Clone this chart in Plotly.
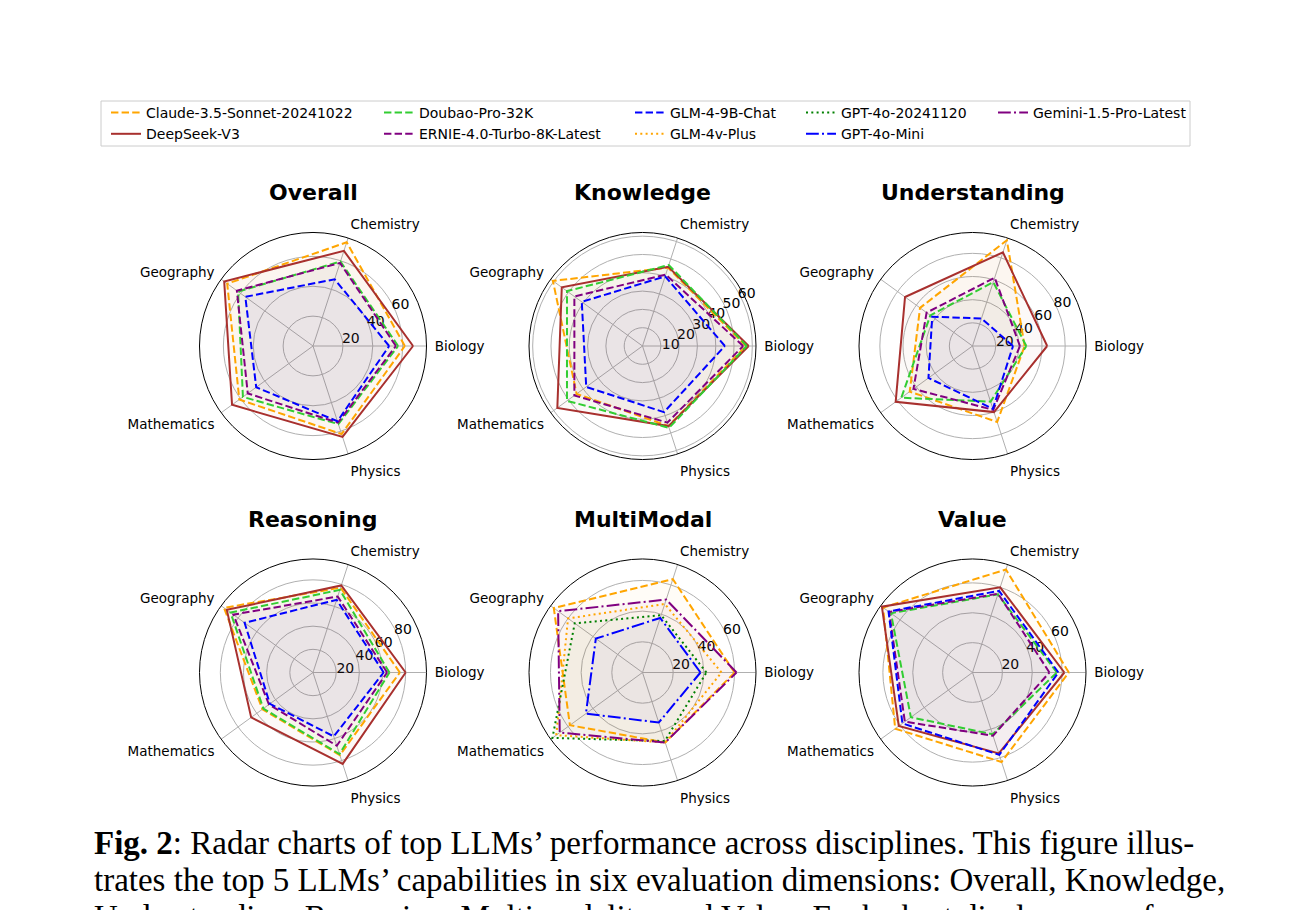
import plotly.graph_objects as go

# ---------------- data ----------------
CATEGORIES = ["Biology", "Chemistry", "Geography", "Mathematics", "Physics"]
DIMENSIONS = ["Overall", "Knowledge", "Understanding", "Reasoning", "MultiModal", "Value"]

# Overall
overall_claude = [61.5, 73, 71, 61, 62]
overall_deepseek = [67, 67, 73.5, 67, 64]
overall_doubao = [57, 59.5, 62, 58, 55]
overall_ernie = [55.5, 58.5, 63, 54, 54]
overall_glm9b = [51, 47, 56, 47, 53]

# Knowledge
knowledge_claude = [56.5, 45, 60.5, 44.5, 46]
knowledge_deepseek = [58, 45.5, 54.5, 57.5, 46]
knowledge_doubao = [57, 46.5, 51, 51, 47]
knowledge_ernie = [55, 41, 46, 46, 44]
knowledge_glm9b = [45, 40, 41, 38, 38]

# Understanding
understanding_claude = [45, 96, 56, 67, 69]
understanding_deepseek = [64.5, 85, 72, 82, 60]
understanding_doubao = [46.5, 58, 45, 76, 50.5]
understanding_ernie = [41, 62, 49, 63, 58]
understanding_glm9b = [35, 25, 43, 47, 57]

# Reasoning
reasoning_claude = [75, 77, 95, 54, 75]
reasoning_deepseek = [80, 79, 92, 66, 83]
reasoning_doubao = [66, 75, 88, 53, 74]
reasoning_ernie = [64, 69, 85, 47, 66.5]
reasoning_glm9b = [61, 66, 73, 46, 58]

# MultiModal
multimodal_claude = [60, 64, 71.5, 58.5, 48]
multimodal_glm4v = [51.5, 47, 60, 69.5, 48]
multimodal_gpt4o = [41.7, 39.3, 54.6, 72.6, 47]
multimodal_gpt4omini = [37.8, 37.4, 37.6, 45.6, 34.3]
multimodal_gemini = [61.3, 50, 68, 66.7, 48]

# Value
value_claude = [64.5, 72.5, 74, 64, 63]
value_deepseek = [61.5, 60, 75, 61, 57]
value_doubao = [56.5, 55, 67.5, 51, 43.5]
value_ernie = [51.5, 55.5, 69, 56, 44.5]
value_glm9b = [57.5, 57.5, 69.5, 58, 58]

RADIAL_MAX = [76, 62, 98, 98, 74, 76]
RADIAL_TICKS = [[20, 40, 60], [10, 20, 30, 40, 50, 60], [20, 40, 60, 80],
                [20, 40, 60, 80], [20, 40, 60], [20, 40, 60]]

MODELS = ["Claude-3.5-Sonnet-20241022", "DeepSeek-V3", "Doubao-Pro-32K",
          "ERNIE-4.0-Turbo-8K-Latest", "GLM-4-9B-Chat", "GLM-4v-Plus",
          "GPT-4o-20241120", "GPT-4o-Mini", "Gemini-1.5-Pro-Latest"]

DIM_SERIES = {
    "Overall": {"Claude-3.5-Sonnet-20241022": overall_claude, "DeepSeek-V3": overall_deepseek,
                "Doubao-Pro-32K": overall_doubao, "ERNIE-4.0-Turbo-8K-Latest": overall_ernie,
                "GLM-4-9B-Chat": overall_glm9b},
    "Knowledge": {"Claude-3.5-Sonnet-20241022": knowledge_claude, "DeepSeek-V3": knowledge_deepseek,
                  "Doubao-Pro-32K": knowledge_doubao, "ERNIE-4.0-Turbo-8K-Latest": knowledge_ernie,
                  "GLM-4-9B-Chat": knowledge_glm9b},
    "Understanding": {"Claude-3.5-Sonnet-20241022": understanding_claude, "DeepSeek-V3": understanding_deepseek,
                      "Doubao-Pro-32K": understanding_doubao, "ERNIE-4.0-Turbo-8K-Latest": understanding_ernie,
                      "GLM-4-9B-Chat": understanding_glm9b},
    "Reasoning": {"Claude-3.5-Sonnet-20241022": reasoning_claude, "DeepSeek-V3": reasoning_deepseek,
                  "Doubao-Pro-32K": reasoning_doubao, "ERNIE-4.0-Turbo-8K-Latest": reasoning_ernie,
                  "GLM-4-9B-Chat": reasoning_glm9b},
    "MultiModal": {"Claude-3.5-Sonnet-20241022": multimodal_claude, "GLM-4v-Plus": multimodal_glm4v,
                   "GPT-4o-20241120": multimodal_gpt4o, "GPT-4o-Mini": multimodal_gpt4omini,
                   "Gemini-1.5-Pro-Latest": multimodal_gemini},
    "Value": {"Claude-3.5-Sonnet-20241022": value_claude, "DeepSeek-V3": value_deepseek,
              "Doubao-Pro-32K": value_doubao, "ERNIE-4.0-Turbo-8K-Latest": value_ernie,
              "GLM-4-9B-Chat": value_glm9b},
}

# ---------------- styles ----------------
DASH = "7.4px,3.2px"
DOT = "2px,3.3px"
DASHDOT = "12.8px,3.2px,2px,3.2px"
STYLE = {
    "Claude-3.5-Sonnet-20241022": ("#FFA500", DASH, (255, 165, 0)),
    "DeepSeek-V3": ("#A8302E", "solid", (168, 48, 46)),
    "Doubao-Pro-32K": ("#32CD32", DASH, (50, 205, 50)),
    "ERNIE-4.0-Turbo-8K-Latest": ("#800080", DASH, (128, 0, 128)),
    "GLM-4-9B-Chat": ("#0000FF", DASH, (0, 0, 255)),
    "GLM-4v-Plus": ("#FFA500", DOT, (255, 165, 0)),
    "GPT-4o-20241120": ("#008000", DOT, (0, 128, 0)),
    "GPT-4o-Mini": ("#0000FF", DASHDOT, (0, 0, 255)),
    "Gemini-1.5-Pro-Latest": ("#800080", DASHDOT, (128, 0, 128)),
}
LEGEND_OF = {
    "Claude-3.5-Sonnet-20241022": "legend", "DeepSeek-V3": "legend",
    "Doubao-Pro-32K": "legend2", "ERNIE-4.0-Turbo-8K-Latest": "legend2",
    "GLM-4-9B-Chat": "legend3", "GLM-4v-Plus": "legend3",
    "GPT-4o-20241120": "legend4", "GPT-4o-Mini": "legend4",
    "Gemini-1.5-Pro-Latest": "legend5",
}

# page offset (body margin) compensated: all layout pixel positions are page - 8
OFF = 8
W, H = 1293 - OFF, 910 - OFF
COL_CX = [313 - OFF, 642.5 - OFF, 972.5 - OFF]
ROW_CY = [346 - OFF, 672.5 - OFF]
R = 113.5
FONT = "DejaVu Sans"
RLABEL_ANGLE = 34

fig = go.Figure()
shown = set()

for i, dim in enumerate(DIMENSIONS):
    pname = "polar" if i == 0 else f"polar{i+1}"
    series = DIM_SERIES[dim]
    # fills first
    for m, vals in series.items():
        col, dash, rgb = STYLE[m]
        fig.add_trace(go.Scatterpolar(
            r=vals + vals[:1], theta=CATEGORIES + CATEGORIES[:1], subplot=pname,
            mode="lines", line=dict(width=0, color=col), fill="toself",
            fillcolor=f"rgba({rgb[0]},{rgb[1]},{rgb[2]},0.03)",
            showlegend=False, hoverinfo="skip"))
    for m in MODELS:
        if m not in series:
            continue
        vals = series[m]
        col, dash, rgb = STYLE[m]
        fig.add_trace(go.Scatterpolar(
            r=vals + vals[:1], theta=CATEGORIES + CATEGORIES[:1], subplot=pname,
            mode="lines", name=m, line=dict(width=2, color=col, dash=dash),
            showlegend=m not in shown, legend=LEGEND_OF[m]))
        shown.add(m)

    row, colidx = divmod(i, 3)
    cx, cy = COL_CX[colidx], ROW_CY[row]
    polar = dict(
        domain=dict(x=[(cx - R) / W, (cx + R) / W], y=[1 - (cy + R) / H, 1 - (cy - R) / H]),
        bgcolor="white",
        radialaxis=dict(range=[0, RADIAL_MAX[i]], tickvals=RADIAL_TICKS[i],
                        showline=False, ticks="", angle=RLABEL_ANGLE, tickangle=RLABEL_ANGLE,
                        side="clockwise",
                        gridcolor="#b0b0b0", gridwidth=1, layer="below traces",
                        tickfont=dict(family=FONT, size=14, color="black")),
        angularaxis=dict(rotation=0, direction="counterclockwise", showline=True,
                         linecolor="black", linewidth=1, ticks="outside", ticklen=5,
                         tickcolor="rgba(0,0,0,0)",
                         gridcolor="#b0b0b0", gridwidth=1, layer="below traces",
                         tickfont=dict(family=FONT, size=13.5, color="black")),
    )
    fig.update_layout(**{pname: polar})
    fig.add_annotation(text=f"<b>{dim}</b>", x=cx / W, y=1 - (cy - 153) / H,
                       xref="paper", yref="paper", showarrow=False,
                       font=dict(family=FONT, size=22, color="black"),
                       xanchor="center", yanchor="middle")

# legends
LEG_X = [106 - OFF, 379 - OFF, 630 - OFF, 801 - OFF, 993 - OFF]
legend_common = dict(orientation="v", yanchor="top", xanchor="left",
                     bgcolor="rgba(0,0,0,0)", font=dict(family=FONT, size=14, color="black"),
                     tracegroupgap=0, itemwidth=30)
leg = {}
for k, lx in enumerate(LEG_X):
    key = "legend" if k == 0 else f"legend{k+1}"
    leg[key] = dict(legend_common, x=lx / W, y=1 - (97 - OFF) / H)
fig.update_layout(**leg)

# legend frame
fig.add_shape(type="rect", xref="paper", yref="paper",
              x0=(101 - OFF) / W, x1=(1190 - OFF) / W,
              y0=1 - (146 - OFF) / H, y1=1 - (101 - OFF) / H,
              line=dict(color="#cccccc", width=1), fillcolor="rgba(0,0,0,0)")

# caption
CAPTION = [
    "<b>Fig. 2</b>: Radar charts of top LLMs\u2019 performance across disciplines. This figure illus-",
    "trates the top 5 LLMs\u2019 capabilities in six evaluation dimensions: Overall, Knowledge,",
    "Understanding, Reasoning, Multimodality, and Value. Each chart displays a perfor-",
]
CAP_Y = [843 - OFF, 880 - OFF, 917 - OFF]
for txt, yy in zip(CAPTION, CAP_Y):
    fig.add_annotation(text=txt, x=(92 - OFF) / W, y=1 - yy / H, xref="paper", yref="paper",
                       showarrow=False, xanchor="left", yanchor="middle",
                       font=dict(family="Liberation Serif", size=33, color="black"))

fig.update_layout(width=W, height=H, margin=dict(l=0, r=0, t=0, b=0, autoexpand=False),
                  paper_bgcolor="white", plot_bgcolor="white")

fig.write_html("out.html")
